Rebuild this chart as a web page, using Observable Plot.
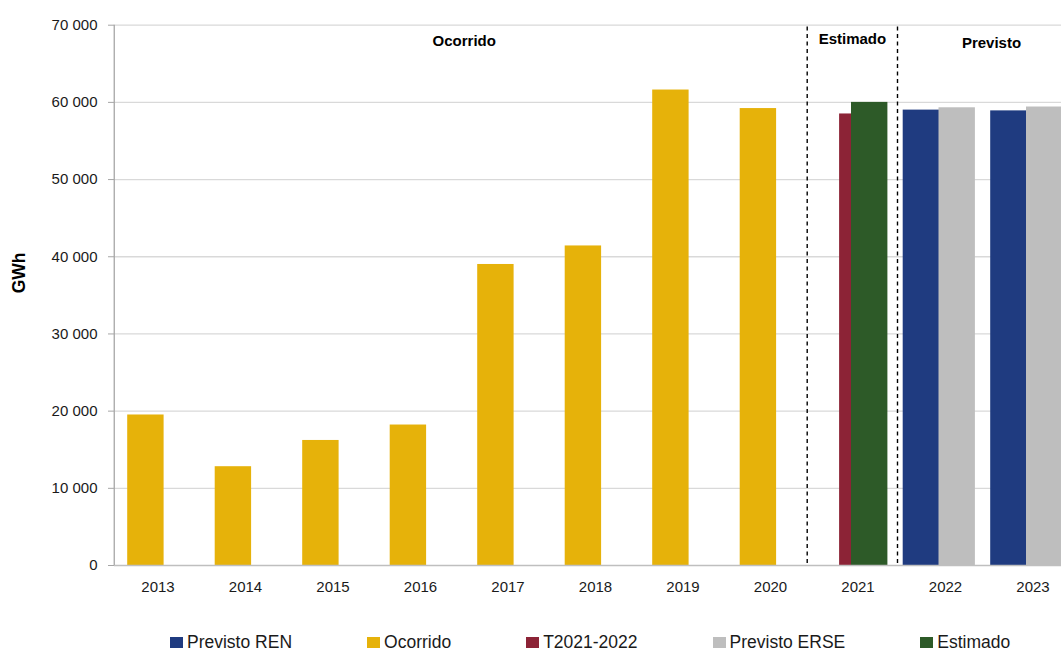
<!DOCTYPE html>
<html>
<head>
<meta charset="utf-8">
<script src="https://cdn.jsdelivr.net/npm/d3@7"></script>
<script src="https://cdn.jsdelivr.net/npm/@observablehq/plot@0.6"></script>
<style>
  html, body { margin: 0; padding: 0; background: #fff; overflow: hidden; }
  #chart { width: 1061px; }
  .legend { display: flex; align-items: center; gap: 75px; margin: 12px 0 0 170px;
            font-family: "Liberation Sans", Arial, sans-serif; font-size: 17.5px; color: #1a1a1a; }
  .legend .item { display: flex; align-items: center; white-space: nowrap; }
  .legend .swatch { width: 13px; height: 11px; margin-right: 4px; }
</style>
</head>
<body>
<div id="chart"></div>
<script>
// Categories (years on the x axis)
const years = ["2013", "2014", "2015", "2016", "2017", "2018", "2019", "2020", "2021", "2022", "2023"];

// Series values, GWh
const ocorridoYears = ["2013", "2014", "2015", "2016", "2017", "2018", "2019", "2020"];
const ocorridoValues = [19500, 12800, 16200, 18200, 39000, 41400, 61600, 59200];

const t2021Years = ["2021"];
const t2021Values = [58500];

const estimadoYears = ["2021"];
const estimadoValues = [60000];

const previstoRenYears = ["2022", "2023"];
const previstoRenValues = [59000, 58900];

const previstoErseYears = ["2022", "2023"];
const previstoErseValues = [59300, 59400];

// Y axis ticks
const yTicks = [0, 10000, 20000, 30000, 40000, 50000, 60000, 70000];

// Period headings
const periodLabels = ["Ocorrido", "Estimado", "Previsto"];

// Legend order
const legendNames = ["Previsto REN", "Ocorrido", "T2021-2022", "Previsto ERSE", "Estimado"];

const colors = {
  "Previsto REN": "#1f3b80",
  "Ocorrido": "#e6b20a",
  "T2021-2022": "#8c2336",
  "Previsto ERSE": "#bebebe",
  "Estimado": "#2d5a28"
};

// Clustered layout inside each year band: bar width and slot offsets (px from band centre)
const band = 87.5, barW = 36.4;
function insets(left) {
  const l = band / 2 + left;
  return {insetLeft: l, insetRight: band - l - barW};
}
const series = [
  {name: "Previsto REN", years: previstoRenYears, values: previstoRenValues, left: -42.3},
  {name: "Ocorrido", years: ocorridoYears, values: ocorridoValues, left: -30.3},
  {name: "T2021-2022", years: t2021Years, values: t2021Values, left: -18.4},
  {name: "Previsto ERSE", years: previstoErseYears, values: previstoErseValues, left: -6.5},
  {name: "Estimado", years: estimadoYears, values: estimadoValues, left: -6.5}
];

const fmt = d => d3.format(",")(d).replace(/,/g, " ");
const font = "Liberation Sans, Arial, sans-serif";

const barMarks = series.map(s =>
  Plot.barY(s.years.map((y, i) => ({year: y, value: s.values[i]})), {
    x: "year", y1: 0, y2: "value", fill: colors[s.name], ...insets(s.left)
  })
);

const plot = Plot.plot({
  width: 1061,
  height: 620,
  marginTop: 24.7,
  marginBottom: 55,
  marginLeft: 114,
  marginRight: 0,
  style: {fontFamily: font, background: "#fff", color: "#1a1a1a"},
  x: {type: "band", domain: years, range: [113.75, 1076.25], padding: 0, round: false},
  y: {domain: [0, 70000], label: null},
  marks: [
    Plot.ruleY(yTicks.slice(1), {stroke: "#d9d9d9", strokeWidth: 1.3}),
    ...barMarks,
    // period separators
    Plot.ruleX(["2021"], {y1: 0, y2: 70000, dx: -50.8, insetTop: -2, stroke: "#000", strokeWidth: 1.4, strokeDasharray: "4,3.5"}),
    Plot.ruleX(["2021"], {y1: 0, y2: 70000, dx: 39.5, insetTop: -2, stroke: "#000", strokeWidth: 1.4, strokeDasharray: "4,3.5"}),
    // axis lines
    Plot.ruleY([0], {stroke: "#bfbfbf", strokeWidth: 1.3}),
    Plot.ruleX(["2013"], {y1: 0, y2: 70000, dx: -43.75, stroke: "#a6a6a6", strokeWidth: 1.3}),
    Plot.axisY({ticks: yTicks, tickFormat: fmt, tickSize: 6, tickPadding: 11, stroke: "#a6a6a6", fontSize: 15, fill: "#1a1a1a", label: null}),
    Plot.axisX({tickSize: 0, tickPadding: 16, fontSize: 15, fill: "#1a1a1a", label: null}),
    // period headings
    Plot.text([periodLabels[0]], {x: () => "2017", dx: -43.75, frameAnchor: "top", lineAnchor: "top", dy: 10, fontSize: 15, fontWeight: "bold", fill: "#000"}),
    Plot.text([periodLabels[1]], {x: () => "2021", dx: -5.6, frameAnchor: "top", lineAnchor: "top", dy: 8.6, fontSize: 15, fontWeight: "bold", fill: "#000"}),
    Plot.text([periodLabels[2]], {x: () => "2023", dx: -41.5, frameAnchor: "top", lineAnchor: "top", dy: 12, fontSize: 15, fontWeight: "bold", fill: "#000"}),
    // y axis title
    Plot.text(["GWh"], {frameAnchor: "left", rotate: -90, dx: -95, dy: -2, fontSize: 17.5, fontWeight: "bold", fill: "#000"})
  ]
});

const chart = document.getElementById("chart");
chart.appendChild(plot);

const legend = document.createElement("div");
legend.className = "legend";
for (const name of legendNames) {
  const item = document.createElement("div");
  item.className = "item";
  const sw = document.createElement("span");
  sw.className = "swatch";
  sw.style.background = colors[name];
  const label = document.createElement("span");
  label.textContent = name;
  item.appendChild(sw);
  item.appendChild(label);
  legend.appendChild(item);
}
chart.appendChild(legend);
</script>
</body>
</html>
